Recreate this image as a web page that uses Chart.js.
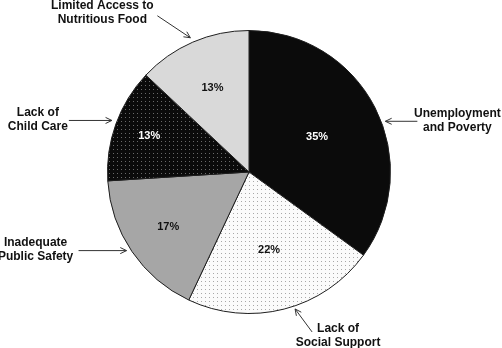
<!DOCTYPE html>
<html><head><meta charset="utf-8">
<script src="https://cdn.jsdelivr.net/npm/chart.js@4"></script>
<style>html,body{margin:0;padding:0;background:#fff;overflow:hidden}canvas{display:block}</style>
</head><body>
<canvas id="c" width="502" height="348"></canvas>
<script>
// ---- data ----
const categories = [
  ["Unemployment", "and Poverty"],
  ["Lack of", "Social Support"],
  ["Inadequate", "Public Safety"],
  ["Lack of", "Child Care"],
  ["Limited Access to", "Nutritious Food"]
];
const values = [35, 22, 17, 13, 13];

// ---- styling / annotation layout (not data) ----
const pctColors = ['#ffffff', '#111111', '#111111', '#ffffff', '#111111'];
const pctRadius = [0.54, 0.57, 0.69, 0.75, 0.65];
// arrow head: angle (deg clockwise from top), extra radius; tail offset from head; text centre offset from head
const callouts = [
  {ang: 69.6, gap: 4, tail: [32, 0], text: [72, -8]},
  {ang: 161.4, gap: 3, tail: [17, 23], text: [43, 20]},
  {ang: 237.3, gap: 4, tail: [-48, 0], text: [-91, -8]},
  {ang: 290.6, gap: 5, tail: [-43, 0], text: [-74, -8]},
  {ang: 336.4, gap: 5, tail: [-33, -22], text: [-88, -32]}
];

function dotPattern(bg, dot) {
  const c = document.createElement('canvas');
  c.width = 4; c.height = 4;
  const x = c.getContext('2d');
  x.fillStyle = bg; x.fillRect(0, 0, 4, 4);
  x.fillStyle = dot; x.fillRect(1, 1, 1, 1);
  return x.createPattern(c, 'repeat');
}
const fills = [
  '#0b0b0b',
  dotPattern('#fbfbfb', '#a8a8a8'),
  '#a6a6a6',
  dotPattern('#0b0b0b', '#6a6a6a'),
  '#d9d9d9'
];

const FONT = 'bold 12px "Liberation Sans", Arial, sans-serif';

const annot = {
  id: 'annot',
  afterDatasetsDraw(chart) {
    const ctx = chart.ctx;
    const meta = chart.getDatasetMeta(0);
    ctx.save();
    meta.data.forEach((arc, i) => {
      const p = arc.getProps(['x', 'y', 'startAngle', 'endAngle', 'outerRadius'], true);
      // percent label
      const mid = (p.startAngle + p.endAngle) / 2;
      const rr = p.outerRadius * pctRadius[i];
      ctx.font = 'bold 11px "Liberation Sans", Arial, sans-serif';
      ctx.fillStyle = pctColors[i];
      ctx.textAlign = 'center';
      ctx.textBaseline = 'middle';
      ctx.fillText(values[i] + '%', p.x + rr * Math.cos(mid), p.y + rr * Math.sin(mid));
      // callout
      const c = callouts[i];
      const a = (c.ang - 90) * Math.PI / 180;
      const R = p.outerRadius + c.gap;
      const hx = p.x + R * Math.cos(a), hy = p.y + R * Math.sin(a);
      const tx = hx + c.tail[0], ty = hy + c.tail[1];
      ctx.strokeStyle = '#333';
      ctx.lineWidth = 1;
      ctx.beginPath(); ctx.moveTo(tx, ty); ctx.lineTo(hx, hy); ctx.stroke();
      const dir = Math.atan2(hy - ty, hx - tx);
      const L = 7, spread = 0.45;
      ctx.beginPath();
      ctx.moveTo(hx - L * Math.cos(dir - spread), hy - L * Math.sin(dir - spread));
      ctx.lineTo(hx, hy);
      ctx.lineTo(hx - L * Math.cos(dir + spread), hy - L * Math.sin(dir + spread));
      ctx.stroke();
      ctx.font = FONT;
      ctx.fillStyle = '#111';
      const cx = hx + c.text[0], cy = hy + c.text[1];
      categories[i].forEach((line, k) => ctx.fillText(line, cx, cy + k * 14));
    });
    ctx.restore();
  }
};

new Chart(document.getElementById('c'), {
  type: 'pie',
  data: {
    labels: categories.map(l => l.join(' ')),
    datasets: [{
      data: values,
      backgroundColor: fills,
      borderColor: '#1e1e1e',
      borderWidth: 1
    }]
  },
  options: {
    responsive: false,
    animation: false,
    layout: {padding: {left: 107, right: 111, top: 30, bottom: 34}},
    plugins: {legend: {display: false}, tooltip: {enabled: false}}
  },
  plugins: [annot]
});
</script>
</body></html>
